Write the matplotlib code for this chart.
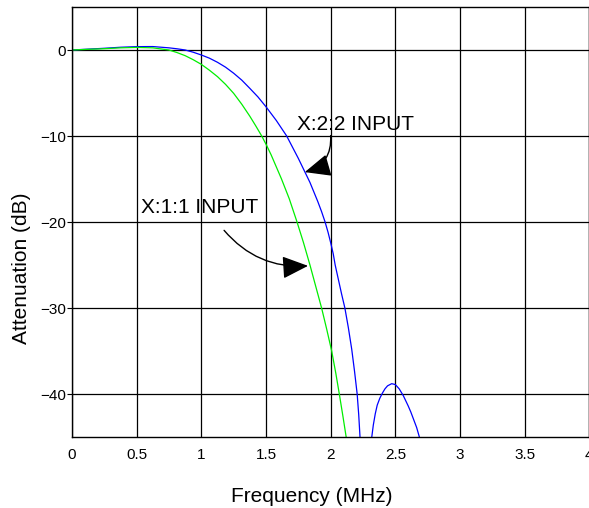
import matplotlib
matplotlib.use("Agg")
import matplotlib.pyplot as plt

# Frequency response of the two input configurations (MHz, dB)
freq_22 = [0.0, 0.125, 0.25, 0.375, 0.5, 0.625, 0.75, 0.8125, 0.875, 0.9375,
           1.0, 1.0625, 1.125, 1.1875, 1.25, 1.3125, 1.375, 1.4375, 1.5, 1.54,
           1.58, 1.62, 1.66, 1.705, 1.75, 1.795, 1.84, 1.87, 1.9, 1.93, 1.957,
           1.98, 2.0, 2.02, 2.035, 2.06, 2.085, 2.11, 2.137, 2.163, 2.185,
           2.205, 2.217, 2.227, 2.26, 2.29, 2.318, 2.33, 2.345, 2.36, 2.38,
           2.40, 2.42, 2.44, 2.472, 2.50, 2.53, 2.562, 2.60, 2.62, 2.64, 2.665,
           2.686, 2.71]
atten_22 = [0.0, 0.1, 0.2, 0.32, 0.39, 0.4, 0.25, 0.14, 0.0, -0.26,
            -0.58, -0.95, -1.43, -2.0, -2.7, -3.5, -4.46, -5.45, -6.6, -7.4,
            -8.2, -9.1, -10.0, -11.3, -12.6, -14.0, -15.4, -16.5, -17.6, -18.8, -20.0,
            -21.2, -22.4, -23.7, -25.0, -26.7, -28.4, -30.0, -32.3, -34.8, -37.4,
            -40.0, -42.4, -45.0, -60.0, -60.0, -45.0, -43.6, -42.3, -41.3, -40.5,
            -39.9, -39.4, -39.05, -38.8, -38.9, -39.4, -40.2, -41.4, -42.1, -42.9, -43.9,
            -45.0, -47.0]

freq_11 = [0.0, 0.125, 0.25, 0.375, 0.5, 0.625, 0.75, 0.8125, 0.875, 0.9375,
           1.0, 1.0625, 1.125, 1.1875, 1.25, 1.3125, 1.375, 1.42, 1.467, 1.505,
           1.54, 1.58, 1.62, 1.68, 1.74, 1.79, 1.84, 1.885, 1.93, 1.97, 2.008,
           2.04, 2.067, 2.095, 2.12, 2.15]
atten_11 = [0.0, 0.08, 0.15, 0.25, 0.3, 0.25, 0.0, -0.3, -0.66, -1.13,
            -1.67, -2.35, -3.1, -4.0, -5.04, -6.3, -7.7, -8.8, -10.0, -11.1,
            -12.2, -13.6, -15.0, -17.3, -20.0, -22.4, -25.0, -27.5, -30.0, -32.5, -35.0,
            -37.6, -40.0, -42.6, -45.0, -48.0]

x_ticks = [0, 0.5, 1, 1.5, 2, 2.5, 3, 3.5, 4]
x_tick_labels = ["0", "0.5", "1", "1.5", "2", "2.5", "3", "3.5", "4"]
y_ticks = [0, -10, -20, -30, -40]
y_tick_labels = ["0", "\u221210", "\u221220", "\u221230", "\u221240"]

W, H = 589, 508
fig = plt.figure(figsize=(W / 100, H / 100), dpi=100)
left, right, top, bottom = 72, 589.3, 7, 437
ax = fig.add_axes([left / W, (H - bottom) / H, (right - left) / W, (bottom - top) / H])

ax.plot(freq_22, atten_22, color="#0000ff", lw=0.9)
ax.plot(freq_11, atten_11, color="#00ee00", lw=0.9)

ax.set_xlim(0, 4)
ax.set_ylim(-45, 5)
ax.set_xticks(x_ticks)
ax.set_xticklabels(x_tick_labels)
ax.set_yticks(y_ticks)
ax.set_yticklabels(y_tick_labels)

tick_font = ["Liberation Sans Narrow", "Liberation Sans", "DejaVu Sans"]
for lab in ax.get_xticklabels() + ax.get_yticklabels():
    lab.set_family(tick_font)
    lab.set_fontsize(11)
ax.tick_params(axis="x", length=0, pad=8)
ax.tick_params(axis="y", direction="out", length=3.5, width=0.8, pad=1)

ax.grid(True, color="black", lw=0.9)
for s in ax.spines.values():
    s.set_color("black")
    s.set_linewidth(1.0)

label_font = ["Liberation Sans", "DejaVu Sans"]
ax.text(1.738, -9.3, "X:2:2 INPUT", family=label_font, fontsize=15,
        ha="left", va="baseline")
ax.text(0.531, -19.0, "X:1:1 INPUT", family=label_font, fontsize=15,
        ha="left", va="baseline")

arrow = dict(arrowstyle="-|>,head_length=0.8,head_width=0.35", color="black",
             lw=1.0, shrinkA=0, shrinkB=0, mutation_scale=20)
ax.annotate("", xy=(1.80, -14.2), xytext=(2.0, -9.95),
            arrowprops=dict(arrow, connectionstyle="arc3,rad=-0.4"))
ax.annotate("", xy=(1.825, -25.1), xytext=(1.176, -20.97),
            arrowprops=dict(arrow, connectionstyle="arc3,rad=0.25"))

fig.text(312 / W, (H - 501.5) / H, "Frequency (MHz)", family=label_font,
         fontsize=15, ha="center", va="baseline")
fig.text(22 / W, (H - 268) / H, "Attenuation (dB)", family=label_font,
         fontsize=15, ha="center", va="center", rotation=90)

fig.savefig("out.png", dpi=100)
